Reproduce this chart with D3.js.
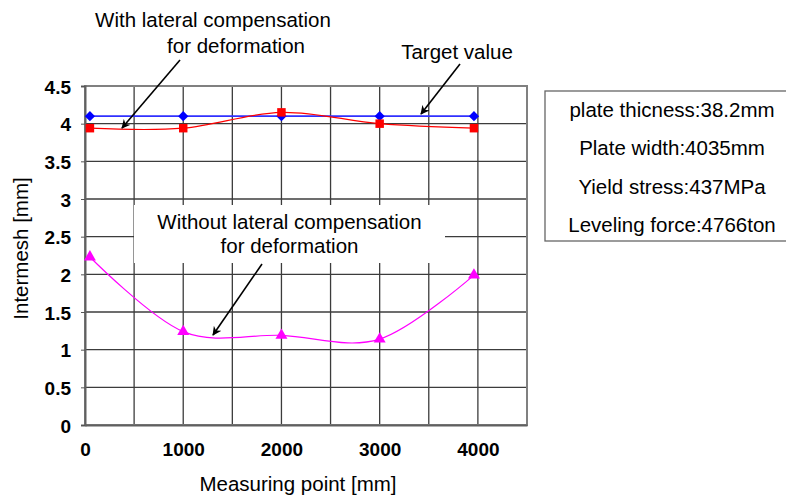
<!DOCTYPE html>
<html>
<head>
<meta charset="utf-8">
<script src="https://cdn.jsdelivr.net/npm/d3@7"></script>
<style>
  body { margin: 0; background: #fff; }
  text { font-family: "Liberation Sans", Arial, sans-serif; }
</style>
</head>
<body>
<div class="chart"></div>
<script>
const width = 786;
const height = 498;

// measuring points [mm]
const pointsX = [50, 1000, 2000, 3000, 3960];
const targetValues = [4.1, 4.1, 4.1, 4.1, 4.1];
const withComp = [3.94, 3.94, 4.15, 4.0, 3.94];
const withoutComp = [2.23, 1.24, 1.19, 1.14, 1.99];

const xTicks = [0, 1000, 2000, 3000, 4000];
const yTicks = [0, 0.5, 1, 1.5, 2, 2.5, 3, 3.5, 4, 4.5];
const xGrid = [0, 500, 1000, 1500, 2000, 2500, 3000, 3500, 4000, 4500];

const infoLines = [
	"plate thicness:38.2mm",
	"Plate width:4035mm",
	"Yield stress:437MPa",
	"Leveling force:4766ton"
];

const margin = { top: 86, right: 259, bottom: 73, left: 85 };

const svg = d3.select(".chart")
	.append("svg")
	.attr("width", width)
	.attr("height", height);

const x = d3.scaleLinear()
	.domain([0, 4500])
	.range([margin.left, width - margin.right]);
const y = d3.scaleLinear()
	.domain([0, 4.5])
	.range([height - margin.bottom, margin.top]);

// grid
svg.append("g")
	.selectAll("line")
	.data(yTicks)
	.enter()
	.append("line")
	.attr("x1", x(0)).attr("x2", x(4500))
	.attr("y1", d => y(d)).attr("y2", d => y(d))
	.attr("stroke", "#3c3c3c")
	.attr("stroke-width", 1.3);

svg.append("g")
	.selectAll("line")
	.data(xGrid)
	.enter()
	.append("line")
	.attr("x1", d => x(d)).attr("x2", d => x(d))
	.attr("y1", y(0)).attr("y2", y(4.5))
	.attr("stroke", "#3c3c3c")
	.attr("stroke-width", 1.3);

// frame
svg.append("rect")
	.attr("x", x(0)).attr("y", y(4.5))
	.attr("width", x(4500) - x(0))
	.attr("height", y(0) - y(4.5))
	.attr("fill", "none")
	.attr("stroke", "#808080")
	.attr("stroke-width", 2);

// axes
const xAxis = d3.axisBottom(x).tickValues(xTicks).tickSize(0).tickPadding(18).tickFormat(d3.format("d"));
const yAxis = d3.axisLeft(y).tickValues(yTicks).tickSize(4).tickPadding(10).tickFormat(d => String(d));

const gx = svg.append("g")
	.attr("transform", `translate(0,${y(0)})`)
	.call(xAxis);
const gy = svg.append("g")
	.attr("transform", `translate(${x(0)},0)`)
	.call(yAxis);

[gx, gy].forEach(g => {
	g.select(".domain").attr("stroke", "#606060").attr("stroke-width", 2);
	g.selectAll(".tick line").attr("stroke", "#555");
	g.selectAll(".tick text")
		.attr("fill", "#000")
		.style("font-size", "19px")
		.style("font-weight", "bold");
});
gy.selectAll(".tick text").attr("dy", "0.38em");

// white label box behind the lower annotation
svg.append("rect")
	.attr("x", 134).attr("y", 205)
	.attr("width", 311).attr("height", 58)
	.attr("fill", "#fff");

// series
const line = d3.line()
	.x(d => x(d[0]))
	.y(d => y(d[1]))
	.curve(d3.curveCardinal.tension(0));

const series = [
	{ values: targetValues, color: "#3030ff", fill: "#0000ff", width: 1.6, symbol: d3.symbolSquare, size: 52, rotate: 45 },
	{ values: withComp, color: "#ff0000", fill: "#ff0000", width: 1.2, symbol: d3.symbolSquare, size: 72, rotate: 0 },
	{ values: withoutComp, color: "#ff00ff", fill: "#ff00ff", width: 1.2, symbol: d3.symbolTriangle, size: 62, rotate: 0 }
];

series.forEach(s => {
	const pts = pointsX.map((px, i) => [px, s.values[i]]);
	svg.append("path")
		.datum(pts)
		.attr("d", line)
		.attr("fill", "none")
		.attr("stroke", s.color)
		.attr("stroke-width", s.width);
	svg.append("g")
		.selectAll("path")
		.data(pts)
		.enter()
		.append("path")
		.attr("d", d3.symbol().type(s.symbol).size(s.size))
		.attr("transform", d => `translate(${x(d[0])},${y(d[1])}) rotate(${s.rotate})`)
		.attr("fill", s.fill);
});

// arrows
svg.append("defs")
	.append("marker")
	.attr("id", "arrow")
	.attr("viewBox", "0 0 10 10")
	.attr("refX", 9).attr("refY", 5)
	.attr("markerWidth", 9).attr("markerHeight", 9)
	.attr("markerUnits", "userSpaceOnUse")
	.attr("orient", "auto")
	.append("path")
	.attr("d", "M0,0 L10,5 L0,10 L3,5 Z")
	.attr("fill", "#000");

const arrows = [
	[180, 60, 122, 128],
	[460, 64, 421, 114],
	[262, 264, 213, 335]
];
svg.append("g")
	.selectAll("line")
	.data(arrows)
	.enter()
	.append("line")
	.attr("x1", d => d[0]).attr("y1", d => d[1])
	.attr("x2", d => d[2]).attr("y2", d => d[3])
	.attr("stroke", "#000")
	.attr("stroke-width", 1.6)
	.attr("marker-end", "url(#arrow)");

// annotation texts
const notes = [
	{ t: "With lateral compensation", x: 213, y: 27 },
	{ t: "for deformation", x: 236, y: 53 },
	{ t: "Target value", x: 457, y: 59 },
	{ t: "Without lateral compensation", x: 289.5, y: 229 },
	{ t: "for deformation", x: 289.5, y: 253 }
];
svg.append("g")
	.selectAll("text")
	.data(notes)
	.enter()
	.append("text")
	.attr("x", d => d.x).attr("y", d => d.y)
	.attr("text-anchor", "middle")
	.style("font-size", "20.5px")
	.text(d => d.t);

// axis titles
svg.append("text")
	.attr("x", 298).attr("y", 491)
	.attr("text-anchor", "middle")
	.style("font-size", "20.5px")
	.text("Measuring point [mm]");

svg.append("text")
	.attr("transform", "translate(28,248.5) rotate(-90)")
	.attr("text-anchor", "middle")
	.style("font-size", "20.5px")
	.text("Intermesh [mm]");

// info box
svg.append("rect")
	.attr("x", 545).attr("y", 91)
	.attr("width", 250).attr("height", 150)
	.attr("fill", "#fff")
	.attr("stroke", "#666")
	.attr("stroke-width", 1.3);

svg.append("g")
	.selectAll("text")
	.data(infoLines)
	.enter()
	.append("text")
	.attr("x", 672)
	.attr("y", (d, i) => 116.7 + i * 38.5)
	.attr("text-anchor", "middle")
	.style("font-size", "20.5px")
	.text(d => d);
</script>
</body>
</html>
